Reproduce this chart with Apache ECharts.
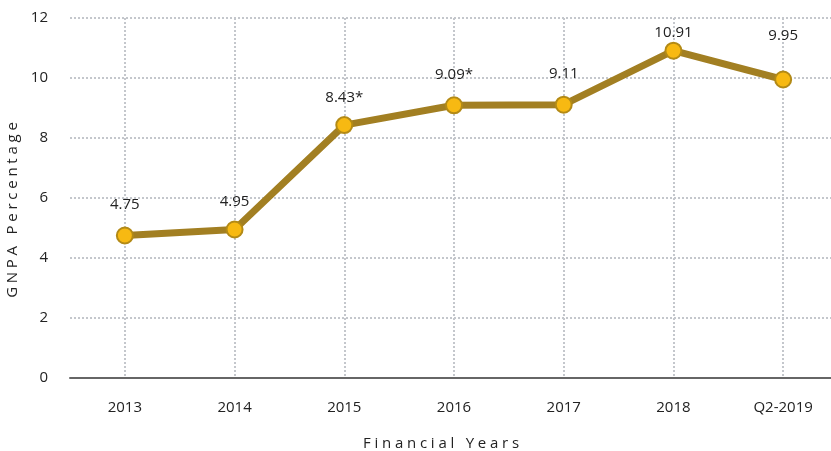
<!DOCTYPE html>
<html><head><meta charset="utf-8">
<script src="https://cdn.jsdelivr.net/npm/echarts@6/dist/echarts.min.js"></script>
<style>html,body{margin:0;padding:0;background:#fff}#c{width:831px;height:451px}</style>
</head><body><div id="c"></div>
<script>
const categories = ['2013','2014','2015','2016','2017','2018','Q2-2019'];
const gnpaValues = [4.75, 4.95, 8.43, 9.09, 9.11, 10.91, 9.95];
const valueLabels = ['4.75','4.95','8.43*','9.09*','9.11','10.91','9.95'];
const yAxisTitle = 'GNPA Percentage';
const xAxisTitle = 'Financial Years';
// label nudges (style only), in px
const labelNudge = [-3, 0, 0, -3, -3, 10, -16];
const spaced = s => s.split('').join('\u2005');
const FONT = '"Open Sans", sans-serif';
const chart = echarts.init(document.getElementById('c'));
chart.setOption({
  animation: false,
  textStyle: {fontFamily: FONT},
  grid: {left: 70, top: 18, width: 768, height: 360, containLabel: false, outerBoundsMode: 'none'},
  xAxis: {
    type: 'category', data: categories, boundaryGap: true,
    name: spaced(xAxisTitle), nameLocation: 'middle', nameGap: 58,
    nameTextStyle: {fontSize: 15, color: '#222', fontFamily: FONT, padding: [0, 26, 0, 0]},
    axisLine: {lineStyle: {color: '#666', width: 2}},
    axisTick: {show: false},
    axisLabel: {color: '#222', fontSize: 15, margin: 22, fontFamily: FONT},
    splitLine: {show: true, alignWithLabel: true, lineStyle: {color: '#c4c7cc', type: [2, 2], width: 2}}
  },
  yAxis: {
    type: 'value', min: 0, max: 12, interval: 2,
    name: spaced(yAxisTitle), nameLocation: 'middle', nameGap: 43, nameRotate: 90,
    nameTextStyle: {fontSize: 15, color: '#222', fontFamily: FONT, padding: [0, 24, 0, 0]},
    axisLine: {show: false}, axisTick: {show: false},
    axisLabel: {color: '#222', fontSize: 15, margin: 22, fontFamily: FONT},
    splitLine: {lineStyle: {color: '#c4c7cc', type: [2, 2], width: 2}}
  },
  series: [{
    type: 'line',
    data: gnpaValues.map((v, i) => ({value: v, label: {offset: [0, labelNudge[i]]}})),
    symbol: 'circle', symbolSize: 16,
    lineStyle: {color: '#a27f22', width: 7},
    itemStyle: {color: '#f7b912', borderColor: '#b38a16', borderWidth: 2},
    label: {show: true, position: 'top', distance: 11, color: '#222', fontSize: 15, fontFamily: FONT,
      formatter: p => valueLabels[p.dataIndex]},
    z: 3
  }]
});
</script></body></html>
